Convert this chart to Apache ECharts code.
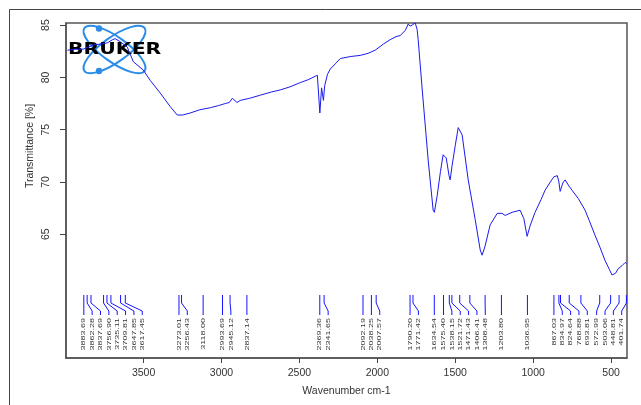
<!DOCTYPE html>
<html><head><meta charset="utf-8">
<script src="https://cdn.jsdelivr.net/npm/echarts@6/dist/echarts.min.js"></script>
<style>html,body{margin:0;padding:0;background:#fff}#c{width:641px;height:405px}</style>
</head><body><div id="c"></div>
<script>
// Spectrum (wavenumber cm-1, transmittance %)
const wavenumbers = [3989, 3940, 3887, 3823, 3770, 3733, 3700, 3682, 3649, 3605, 3566, 3502, 3457, 3393, 3329, 3284, 3250, 3200, 3140, 3072, 3020, 2976, 2950, 2931, 2900, 2880, 2820, 2751, 2680, 2623, 2560, 2495, 2440, 2400, 2385, 2369, 2358, 2346, 2338, 2320, 2302, 2270, 2238, 2170, 2110, 2060, 2014, 1960, 1918, 1880, 1854, 1820, 1802, 1790, 1777, 1765, 1757, 1745, 1738, 1712, 1674, 1642, 1634, 1616, 1595, 1578, 1558, 1540, 1533, 1520, 1500, 1481, 1456, 1417, 1372, 1340, 1328, 1310, 1276, 1231, 1200, 1180, 1135, 1084, 1060, 1039, 1020, 988, 950, 924, 890, 867, 845, 835, 827, 810, 795, 770, 750, 710, 667, 640, 603, 570, 539, 510, 494, 470, 455, 430, 410, 400];
const transmittance = [82.6, 82.7, 82.7, 83.1, 83.2, 83.3, 83.6, 83.7, 83.4, 82.9, 81.5, 80.7, 79.7, 78.5, 77.2, 76.4, 76.4, 76.6, 76.9, 77.1, 77.3, 77.5, 77.6, 78.0, 77.6, 77.8, 78.0, 78.3, 78.6, 78.8, 79.1, 79.5, 79.8, 80.1, 80.2, 76.6, 79.0, 77.8, 79.2, 80.3, 80.8, 81.3, 81.8, 82.0, 82.1, 82.3, 82.6, 83.2, 83.6, 83.9, 84.0, 84.5, 85.1, 84.9, 85.0, 84.9, 85.2, 84.6, 83.6, 78.8, 72.1, 67.3, 67.1, 68.7, 71.0, 72.6, 72.3, 70.6, 70.2, 71.6, 73.5, 75.2, 74.5, 70.2, 66.4, 63.5, 63.0, 63.8, 65.9, 67.0, 67.0, 66.8, 67.1, 67.3, 66.5, 64.8, 65.8, 67.1, 68.3, 69.2, 70.0, 70.5, 70.6, 70.0, 69.1, 69.9, 70.2, 69.6, 69.2, 68.4, 67.3, 66.3, 64.9, 63.7, 62.5, 61.6, 61.1, 61.3, 61.7, 62.0, 62.3, 62.2];
// Peak picking labels
const peakWavenumbers = [3883.69, 3862.28, 3837.69, 3756.90, 3735.11, 3709.81, 3647.85, 3617.45, 3273.01, 3256.43, 3118.00, 2993.69, 2945.12, 2837.14, 2369.36, 2341.65, 2092.19, 2038.25, 2007.57, 1790.20, 1771.42, 1634.54, 1575.40, 1538.15, 1521.72, 1471.43, 1406.41, 1308.48, 1203.80, 1036.95, 867.03, 834.97, 824.64, 768.88, 693.81, 572.99, 503.06, 448.81, 401.74];
const xTicks = [500, 1000, 1500, 2000, 2500, 3000, 3500];
const yTicks = [65, 70, 75, 80, 85];
const X_MIN = 398, X_MAX = 3998, Y_MIN = 53.17, Y_MAX = 85.2;

const chart = echarts.init(document.getElementById('c'));
const spectrum = wavenumbers.map((w, i) => [w, transmittance[i]]);
let labelLayout = null;
function computeLayout(api, cs) {
  const pxs = peakWavenumbers.map(w => api.coord([w, Y_MIN])[0]);
  const gap = 8.35;
  const idx = pxs.map((p, i) => i).sort((a, b) => pxs[a] - pxs[b]);
  const pos = [];
  let prev = -Infinity;
  idx.forEach(i => { pos[i] = Math.max(pxs[i], prev + gap); prev = pos[i]; });
  let next = cs.x + cs.width - 5.3;
  for (let k = idx.length - 1; k >= 0; k--) { const i = idx[k]; pos[i] = Math.min(pos[i], next); next = pos[i] - gap; }
  return { pxs, pos };
}
const FONT = 'Liberation Sans, Arial, sans-serif';
chart.setOption({
  animation: false,
  grid: { left: 66, right: 14, top: 23, bottom: 47, show: true, borderColor: '#555', borderWidth: 1.5, containLabel: false },
  xAxis: {
    type: 'value', inverse: true, min: X_MIN, max: X_MAX,
    name: 'Wavenumber cm-1', nameLocation: 'middle', nameGap: 28,
    nameTextStyle: { fontFamily: FONT, fontSize: 10.5, color: '#333' },
    axisLine: { show: true, lineStyle: { color: '#555', width: 1.5 } },
    axisTick: { show: true, length: 5, customValues: xTicks, lineStyle: { color: '#444' } },
    axisLabel: { customValues: xTicks, formatter: v => String(v), margin: 10, fontFamily: FONT, fontSize: 10.5, color: '#333' },
    splitLine: { show: false }
  },
  yAxis: {
    type: 'value', min: Y_MIN, max: Y_MAX,
    axisLine: { show: true, lineStyle: { color: '#555', width: 1.5 } },
    axisTick: { show: true, length: 6, customValues: yTicks, lineStyle: { color: '#444' } },
    axisLabel: { customValues: yTicks, formatter: v => String(v), rotate: 90, margin: 14, fontFamily: FONT, fontSize: 10.5, color: '#333' },
    splitLine: { show: false }
  },
  graphic: [
    { type: 'rect', shape: { x: 9.5, y: 9.5, width: 700, height: 500 }, style: { fill: null, stroke: '#444', lineWidth: 1 }, silent: true, z: -10 },
    { type: 'text', x: 30, y: 146, rotation: Math.PI / 2, style: { text: 'Transmittance [%]', fontFamily: FONT, fontSize: 10.5, fill: '#333', align: 'center', verticalAlign: 'middle' } },
    { type: 'group', z: 100, children: [
      { type: 'ellipse', x: 114.5, y: 49.5, rotation: 0.62, shape: { cx: 0, cy: 0, rx: 37, ry: 12.5 }, style: { fill: null, stroke: '#2b8de8', lineWidth: 2 } },
      { type: 'ellipse', x: 114.5, y: 49.5, rotation: -0.62, shape: { cx: 0, cy: 0, rx: 37, ry: 12.5 }, style: { fill: null, stroke: '#2b8de8', lineWidth: 2 } },
      { type: 'circle', shape: { cx: 99, cy: 28.5, r: 3.2 }, style: { fill: '#2b8de8' } },
      { type: 'circle', shape: { cx: 99, cy: 71, r: 3.2 }, style: { fill: '#2b8de8' } },
      { type: 'text', x: 68, y: 50.5, scaleX: 1.36, style: { text: 'BRUKER', fontFamily: 'DejaVu Sans, Arial', fontWeight: 'bold', fontSize: 15, fill: '#000', align: 'left', verticalAlign: 'middle' } }
    ] }
  ],
  series: [
    { type: 'line', data: spectrum, showSymbol: false, symbol: 'none', lineStyle: { color: '#1a1aee', width: 1 }, clip: true, z: 3 },
    {
      type: 'custom', data: peakWavenumbers.map(w => [w, Y_MIN]), encode: { x: 0, y: 1 }, clip: false, z: 4,
      renderItem(params, api) {
        const cs = params.coordSys;
        if (!labelLayout) labelLayout = computeLayout(api, cs);
        const i = params.dataIndex;
        const px = labelLayout.pxs[i], lx = labelLayout.pos[i];
        const bottom = cs.y + cs.height;
        return { type: 'group', children: [
          { type: 'polyline', shape: { points: [[px, bottom - 63], [px, bottom - 55], [lx, bottom - 47], [lx, bottom - 43]] }, style: { stroke: '#1414ff', lineWidth: 1, fill: null } },
          { type: 'text', x: lx, y: bottom - 40, rotation: Math.PI / 2, scaleX: 1.5, style: { text: peakWavenumbers[i].toFixed(2), fontFamily: FONT, fontSize: 6, fill: '#333', align: 'right', verticalAlign: 'middle' } }
        ] };
      }
    }
  ]
});
</script></body></html>
